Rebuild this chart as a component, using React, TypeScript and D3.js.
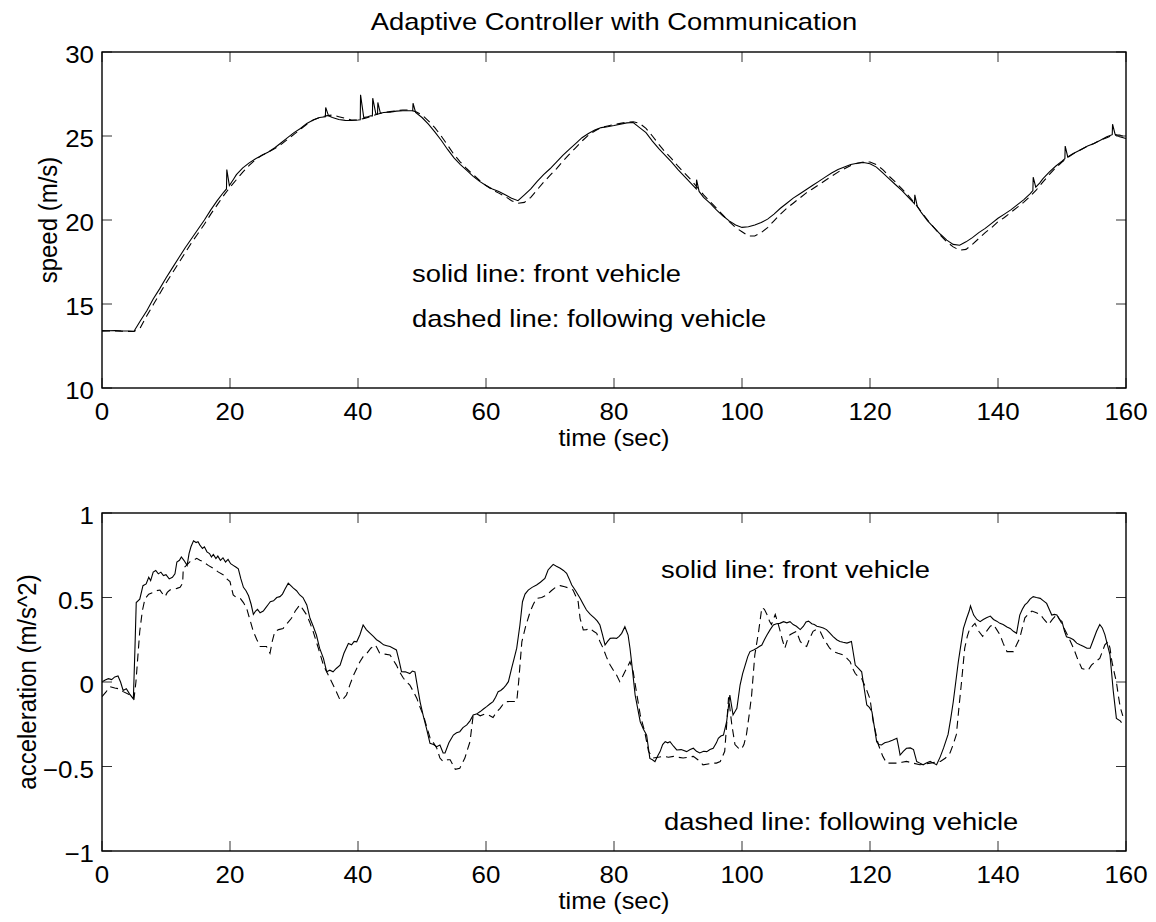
import React from "react";
import * as d3 from "d3";

const W = 1156;
const H = 922;

const titleText = "Adaptive Controller with Communication";
const xTicks = [0, 20, 40, 60, 80, 100, 120, 140, 160];
const speedTicks = [10, 15, 20, 25, 30];
const accelTicks = [-1, -0.5, 0, 0.5, 1];
const accelTickLabels = ["\u22121", "\u22120.5", "0", "0.5", "1"];

// speed (m/s) of front vehicle (solid)
const frontSpeed: [number, number][] = [
  [0, 13.42], [1, 13.41], [2, 13.42], [3, 13.4], [4, 13.39], [5, 13.38], [6, 14.0], [7, 14.6], [8, 15.3], [9, 15.9],
  [10, 16.55], [11, 17.15], [12, 17.75], [13, 18.35], [14, 18.9], [15, 19.45], [16, 20.0], [17, 20.6], [18, 21.15],
  [19, 21.65], [19.45, 21.85], [19.5, 23.0], [19.9, 22.05], [20.5, 22.4], [21, 22.7], [22, 23.1], [23, 23.4], [24, 23.65],
  [25, 23.85], [26, 24.05], [27, 24.3], [28, 24.6], [29, 24.9], [30, 25.2], [31, 25.45], [32, 25.75], [33, 25.95], [34, 26.1],
  [34.9, 26.15], [34.95, 26.7], [35.4, 26.2], [36, 26.1], [37, 25.98], [38, 25.93], [39, 25.92], [40, 25.95], [40.35, 25.97],
  [40.4, 27.45], [40.9, 26.1], [41.5, 26.15], [42, 26.2], [42.25, 26.2], [42.3, 27.25], [42.8, 26.3], [43.05, 26.3], [43.1, 27.0],
  [43.5, 26.35], [44, 26.4], [45, 26.42], [46, 26.48], [47, 26.5], [48, 26.5], [48.55, 26.5], [48.6, 26.95], [49.0, 26.4],
  [50, 26.1], [51, 25.7], [52, 25.25], [53, 24.75], [54, 24.2], [55, 23.7], [56, 23.3], [57, 22.95], [58, 22.6], [59, 22.3],
  [60, 22.05], [61, 21.85], [62, 21.7], [63, 21.5], [64, 21.3], [65, 21.15], [66, 21.5], [67, 21.85], [68, 22.3], [69, 22.7],
  [70, 23.05], [71, 23.45], [72, 23.85], [73, 24.2], [74, 24.55], [75, 24.9], [76, 25.15], [77, 25.35], [78, 25.5], [79, 25.55],
  [80, 25.62], [81, 25.7], [82, 25.78], [83, 25.8], [84, 25.5], [85, 25.2], [86, 24.7], [87, 24.25], [88, 23.85], [89, 23.45],
  [90, 23.0], [91, 22.6], [92, 22.2], [92.85, 21.85], [92.9, 22.4], [93.3, 21.7], [94, 21.35], [95, 21.0], [96, 20.6], [97, 20.25],
  [98, 19.95], [99, 19.7], [100, 19.56], [101, 19.6], [102, 19.7], [103, 19.85], [104, 20.05], [105, 20.35], [106, 20.7],
  [107, 21.0], [108, 21.3], [109, 21.55], [110, 21.8], [111, 22.05], [112, 22.3], [113, 22.55], [114, 22.8], [115, 23.0],
  [116, 23.15], [117, 23.3], [118, 23.38], [119, 23.42], [120, 23.35], [121, 23.15], [122, 22.8], [123, 22.45], [124, 22.1],
  [125, 21.75], [126, 21.35], [126.95, 20.97], [127.0, 21.5], [127.4, 20.8], [128, 20.45], [129, 19.95], [130, 19.55],
  [131, 19.15], [132, 18.8], [133, 18.55], [134, 18.5], [135, 18.7], [136, 18.95], [137, 19.25], [138, 19.5], [139, 19.8],
  [140, 20.1], [141, 20.35], [142, 20.6], [143, 20.9], [144, 21.2], [145, 21.55], [145.45, 21.75], [145.5, 22.55],
  [145.9, 21.95], [146.5, 22.2], [147, 22.45], [148, 22.85], [149, 23.2], [150, 23.5], [150.45, 23.65], [150.5, 24.4],
  [150.9, 23.75], [151.5, 23.9], [152, 24.0], [153, 24.2], [154, 24.4], [155, 24.55], [156, 24.75], [157, 24.95],
  [157.85, 25.08], [157.9, 25.7], [158.3, 25.1], [159, 24.95], [160, 24.85],
];

// speed (m/s) of following vehicle (dashed)
const followSpeed: [number, number][] = [
  [0, 13.38], [1, 13.4], [2, 13.39], [3, 13.38], [4, 13.37], [5, 13.36], [6, 13.6], [7, 14.3], [8, 14.95], [9, 15.6],
  [10, 16.25], [11, 16.85], [12, 17.45], [13, 18.05], [14, 18.65], [15, 19.2], [16, 19.75], [17, 20.35], [18, 20.9], [19, 21.45],
  [20, 21.95], [21, 22.4], [22, 22.85], [23, 23.25], [24, 23.6], [25, 23.85], [26, 24.05], [27, 24.25], [28, 24.5], [29, 24.8],
  [30, 25.1], [31, 25.4], [32, 25.7], [33, 25.95], [34, 26.1], [35, 26.2], [36, 26.25], [37, 26.15], [38, 26.05], [39, 25.95],
  [40, 25.95], [41, 26.05], [42, 26.15], [43, 26.3], [44, 26.4], [45, 26.45], [46, 26.5], [47, 26.55], [48, 26.55], [49, 26.45],
  [50, 26.25], [51, 25.9], [52, 25.5], [53, 25.0], [54, 24.45], [55, 23.9], [56, 23.45], [57, 23.05], [58, 22.7], [59, 22.35],
  [60, 22.05], [61, 21.8], [62, 21.6], [63, 21.4], [64, 21.15], [65, 21.0], [66, 21.05], [67, 21.35], [68, 21.8], [69, 22.25],
  [70, 22.65], [71, 23.05], [72, 23.5], [73, 23.9], [74, 24.3], [75, 24.7], [76, 25.05], [77, 25.3], [78, 25.5], [79, 25.6],
  [80, 25.68], [81, 25.75], [82, 25.82], [83, 25.85], [84, 25.75], [85, 25.45], [86, 25.0], [87, 24.5], [88, 24.05], [89, 23.65],
  [90, 23.2], [91, 22.8], [92, 22.4], [93, 21.95], [94, 21.5], [95, 21.1], [96, 20.7], [97, 20.3], [98, 19.9], [99, 19.55],
  [100, 19.3], [101, 19.05], [102, 19.05], [103, 19.25], [104, 19.55], [105, 19.95], [106, 20.35], [107, 20.7], [108, 21.0],
  [109, 21.3], [110, 21.6], [111, 21.85], [112, 22.1], [113, 22.35], [114, 22.6], [115, 22.85], [116, 23.05], [117, 23.25],
  [118, 23.38], [119, 23.45], [120, 23.45], [121, 23.3], [122, 23.0], [123, 22.6], [124, 22.25], [125, 21.85], [126, 21.45],
  [127, 21.0], [128, 20.5], [129, 20.0], [130, 19.55], [131, 19.1], [132, 18.7], [133, 18.4], [134, 18.2], [135, 18.25],
  [136, 18.55], [137, 18.9], [138, 19.25], [139, 19.55], [140, 19.9], [141, 20.15], [142, 20.45], [143, 20.75], [144, 21.05],
  [145, 21.4], [146, 21.8], [147, 22.25], [148, 22.7], [149, 23.1], [150, 23.45], [151, 23.75], [152, 24.0], [153, 24.2],
  [154, 24.4], [155, 24.55], [156, 24.75], [157, 24.9], [158, 25.05], [159, 25.05], [160, 24.95],
];

// acceleration (m/s^2) of front vehicle (solid)
const frontAccel: [number, number][] = [
  [0, 0.0], [0.5, 0.012], [1, 0.02], [1.5, 0.014], [2, 0.03], [2.5, 0.036], [2.9, 0.0], [3.3, -0.05], [3.8, -0.04], [4.3, -0.07],
  [4.9, -0.1], [5.15, 0.2], [5.35, 0.47], [5.9, 0.49], [6.4, 0.57], [6.9, 0.58], [7.3, 0.62], [7.6, 0.6], [8.0, 0.65], [8.4, 0.66],
  [8.8, 0.64], [9.2, 0.65], [9.6, 0.63], [10.0, 0.635], [10.5, 0.61], [11.0, 0.62], [11.4, 0.64], [11.7, 0.71], [12.1, 0.72],
  [12.4, 0.74], [12.8, 0.72], [13.3, 0.69], [13.6, 0.76], [13.9, 0.8], [14.3, 0.835], [14.7, 0.825], [15.0, 0.83], [15.3, 0.81],
  [15.7, 0.79], [16.0, 0.8], [16.4, 0.77], [16.8, 0.76], [17.1, 0.74], [17.4, 0.755], [17.8, 0.73], [18.1, 0.745], [18.5, 0.72],
  [18.9, 0.735], [19.3, 0.71], [19.7, 0.725], [20.1, 0.7], [20.5, 0.69], [20.9, 0.68], [21.3, 0.67], [21.7, 0.61], [22.1, 0.56],
  [22.5, 0.54], [22.9, 0.51], [23.3, 0.46], [23.65, 0.4], [24.0, 0.42], [24.3, 0.43], [24.7, 0.41], [25.2, 0.42], [25.6, 0.44],
  [26.0, 0.46], [26.3, 0.475], [26.8, 0.48], [27.3, 0.5], [27.8, 0.505], [28.2, 0.52], [28.6, 0.55], [29.1, 0.585], [29.5, 0.57],
  [29.9, 0.555], [30.4, 0.54], [30.9, 0.515], [31.4, 0.5], [32.0, 0.456], [32.5, 0.377], [33.0, 0.33], [33.5, 0.278], [34.0, 0.2],
  [34.6, 0.14], [35.1, 0.061], [35.6, 0.07], [36.1, 0.06], [36.6, 0.08], [37.2, 0.1], [37.8, 0.17], [38.5, 0.228], [39.0, 0.22],
  [39.4, 0.24], [39.8, 0.238], [40.3, 0.28], [40.8, 0.337], [41.3, 0.31], [41.9, 0.288], [42.4, 0.27], [42.9, 0.25], [43.4, 0.238],
  [44.0, 0.22], [44.5, 0.215], [45.0, 0.21], [45.5, 0.2], [46.0, 0.19], [46.4, 0.13], [46.8, 0.061], [47.4, 0.06], [48.1, 0.05],
  [48.5, 0.065], [48.9, 0.06], [49.3, -0.03], [49.7, -0.117], [50.2, -0.2], [50.7, -0.274], [51.25, -0.363], [51.8, -0.37],
  [52.3, -0.383], [52.8, -0.373], [53.3, -0.42], [53.6, -0.42], [54.2, -0.36], [54.9, -0.314], [55.4, -0.3], [55.9, -0.294],
  [56.4, -0.27], [57.0, -0.254], [57.5, -0.23], [58.0, -0.195], [58.5, -0.19], [59.1, -0.175], [59.6, -0.16], [60.1, -0.146],
  [60.6, -0.13], [61.1, -0.116], [61.5, -0.09], [61.9, -0.057], [62.3, -0.05], [62.7, -0.037], [63.1, -0.02], [63.5, 0.002],
  [64.0, 0.081], [64.4, 0.14], [64.8, 0.2], [65.3, 0.337], [65.7, 0.475], [66.1, 0.52], [66.6, 0.544], [67.2, 0.56], [67.9, 0.574],
  [68.5, 0.59], [69.2, 0.613], [69.7, 0.663], [70.1, 0.68], [70.5, 0.696], [71.0, 0.685], [71.6, 0.673], [72.1, 0.66],
  [72.6, 0.643], [73.0, 0.61], [73.4, 0.574], [74.0, 0.54], [74.7, 0.495], [75.2, 0.46], [75.7, 0.426], [76.3, 0.4], [77.0, 0.377],
  [77.4, 0.36], [77.8, 0.337], [78.2, 0.28], [78.6, 0.219], [79.0, 0.24], [79.4, 0.258], [79.9, 0.26], [80.4, 0.258], [80.8, 0.27],
  [81.2, 0.288], [81.7, 0.327], [82.2, 0.278], [82.5, 0.2], [82.8, 0.1], [83.3, -0.077], [84.1, -0.235], [84.6, -0.28],
  [85.1, -0.314], [85.6, -0.452], [86.0, -0.46], [86.4, -0.471], [86.8, -0.44], [87.2, -0.412], [87.6, -0.37], [88.0, -0.353],
  [88.4, -0.36], [88.75, -0.353], [89.3, -0.38], [89.8, -0.402], [90.5, -0.4], [91.35, -0.412], [91.9, -0.4], [92.4, -0.392],
  [92.9, -0.41], [93.4, -0.42], [94.0, -0.41], [94.5, -0.412], [95.0, -0.4], [95.5, -0.392], [96.0, -0.36], [96.3, -0.333],
  [96.7, -0.32], [97.1, -0.314], [97.6, -0.235], [98.1, -0.077], [98.6, -0.195], [99.2, -0.156], [99.7, -0.018], [100.1, 0.05],
  [100.5, 0.1], [100.9, 0.15], [101.25, 0.18], [101.8, 0.19], [102.3, 0.2], [102.7, 0.21], [103.1, 0.219], [103.5, 0.25],
  [103.9, 0.278], [104.4, 0.31], [104.9, 0.337], [105.4, 0.345], [105.9, 0.347], [106.5, 0.357], [107.0, 0.35], [107.5, 0.357],
  [108.0, 0.34], [108.5, 0.33], [109.1, 0.31], [109.6, 0.33], [110.0, 0.355], [110.4, 0.36], [110.9, 0.345], [111.3, 0.34],
  [111.7, 0.33], [112.2, 0.325], [112.7, 0.32], [113.2, 0.31], [113.7, 0.29], [114.2, 0.27], [114.8, 0.25], [115.3, 0.24],
  [115.8, 0.235], [116.4, 0.23], [117.1, 0.24], [117.4, 0.17], [117.7, 0.1], [118.2, 0.08], [118.7, 0.06], [119.1, -0.04],
  [119.5, -0.136], [119.9, -0.15], [120.3, -0.175], [120.7, -0.27], [121.04, -0.353], [121.4, -0.37], [121.8, -0.373],
  [122.3, -0.36], [122.9, -0.353], [123.5, -0.345], [124.2, -0.333], [124.5, -0.39], [124.7, -0.432], [125.2, -0.41],
  [125.7, -0.392], [126.3, -0.39], [126.8, -0.4], [127.3, -0.471], [127.8, -0.48], [128.3, -0.49], [128.8, -0.48], [129.4, -0.47],
  [129.9, -0.48], [130.4, -0.49], [131.0, -0.44], [131.5, -0.39], [132.2, -0.31], [132.6, -0.22], [133.0, -0.12], [133.4, 0.0],
  [133.8, 0.12], [134.2, 0.22], [134.6, 0.317], [135.1, 0.377], [135.5, 0.42], [135.7, 0.45], [136.2, 0.396], [136.7, 0.37],
  [137.2, 0.357], [137.7, 0.37], [138.2, 0.38], [138.8, 0.39], [139.3, 0.37], [139.8, 0.36], [140.3, 0.347], [140.8, 0.34],
  [141.4, 0.325], [141.9, 0.317], [142.4, 0.3], [142.9, 0.288], [143.4, 0.396], [143.8, 0.43], [144.2, 0.456], [144.6, 0.47],
  [145.0, 0.49], [145.5, 0.505], [146.0, 0.5], [146.6, 0.495], [147.1, 0.48], [147.6, 0.465], [148.0, 0.43], [148.4, 0.396],
  [148.8, 0.4], [149.2, 0.396], [149.6, 0.37], [150.0, 0.357], [150.4, 0.3], [150.7, 0.268], [151.3, 0.26], [151.8, 0.25],
  [152.3, 0.23], [152.8, 0.22], [153.4, 0.21], [153.9, 0.2], [154.4, 0.2], [154.9, 0.25], [155.4, 0.3], [155.9, 0.34],
  [156.3, 0.32], [156.7, 0.28], [157.1, 0.22], [157.5, 0.16], [158.0, -0.05], [158.5, -0.215], [159.1, -0.23], [159.3, -0.24],
];

// acceleration (m/s^2) of following vehicle (dashed)
const followAccel: [number, number][] = [
  [0, -0.087], [0.6, -0.06], [1.25, -0.028], [2.0, -0.035], [2.6, -0.04], [3.3, -0.057], [4.0, -0.07], [4.6, -0.08], [5.0, -0.1],
  [5.3, 0.0], [5.6, 0.15], [5.9, 0.3], [6.3, 0.42], [6.7, 0.49], [7.3, 0.52], [8.0, 0.53], [8.5, 0.54], [9.06, 0.544], [9.5, 0.52],
  [9.85, 0.505], [10.2, 0.53], [10.6, 0.544], [11.2, 0.55], [11.7, 0.554], [12.2, 0.56], [12.6, 0.584], [12.7, 0.673], [13.2, 0.69],
  [13.75, 0.712], [14.3, 0.72], [14.8, 0.732], [15.3, 0.72], [15.8, 0.712], [16.6, 0.69], [17.4, 0.673], [18.2, 0.65],
  [19.0, 0.633], [19.5, 0.61], [20.0, 0.594], [20.5, 0.515], [21.0, 0.5], [21.6, 0.495], [22.1, 0.47], [22.6, 0.436],
  [23.1, 0.37], [23.65, 0.298], [24.2, 0.25], [24.7, 0.21], [25.2, 0.21], [25.7, 0.21], [26.25, 0.17], [26.6, 0.24],
  [27.0, 0.298], [27.6, 0.31], [28.3, 0.317], [29.0, 0.35], [29.6, 0.377], [30.2, 0.42], [30.9, 0.456], [31.4, 0.43],
  [32.0, 0.396], [32.5, 0.35], [33.0, 0.298], [33.8, 0.2], [34.6, 0.1], [35.1, 0.06], [35.6, 0.022], [36.4, -0.04],
  [37.2, -0.107], [37.7, -0.1], [38.2, -0.077], [38.7, -0.02], [39.3, 0.04], [39.8, 0.08], [40.3, 0.12], [40.8, 0.15],
  [41.4, 0.17], [42.0, 0.2], [42.7, 0.219], [43.0, 0.2], [43.4, 0.17], [44.2, 0.165], [45.0, 0.16], [45.5, 0.13], [46.0, 0.1],
  [46.5, 0.06], [47.1, 0.022], [47.6, 0.0], [48.1, -0.018], [48.7, -0.06], [49.2, -0.097], [49.7, -0.15], [50.2, -0.195],
  [50.7, -0.26], [51.25, -0.33], [51.8, -0.36], [52.3, -0.39], [52.8, -0.45], [53.3, -0.47], [54.0, -0.46], [54.4, -0.46],
  [55.2, -0.517], [55.9, -0.51], [56.3, -0.48], [56.7, -0.45], [57.1, -0.4], [57.5, -0.353], [58.0, -0.195], [58.6, -0.19],
  [59.1, -0.2], [59.8, -0.19], [60.4, -0.195], [61.1, -0.21], [61.6, -0.18], [62.2, -0.156], [62.7, -0.13], [63.2, -0.116],
  [64.0, -0.115], [64.8, -0.116], [65.1, 0.0], [65.6, 0.238], [66.2, 0.33], [66.9, 0.416], [67.4, 0.46], [67.9, 0.495],
  [68.7, 0.5], [69.5, 0.515], [70.2, 0.54], [71.0, 0.564], [71.6, 0.57], [72.3, 0.564], [73.0, 0.555], [73.6, 0.544],
  [74.0, 0.51], [74.4, 0.475], [74.7, 0.377], [75.2, 0.308], [75.7, 0.31], [76.2, 0.318], [76.8, 0.3], [77.3, 0.288],
  [77.8, 0.24], [78.3, 0.2], [78.8, 0.15], [79.4, 0.1], [79.9, 0.07], [80.4, 0.041], [80.9, 0.002], [81.3, 0.03], [81.7, 0.06],
  [82.1, 0.09], [82.5, 0.12], [83.0, 0.06], [83.5, -0.057], [84.1, -0.195], [84.8, -0.294], [85.4, -0.412], [86.1, -0.45],
  [86.9, -0.445], [87.7, -0.44], [88.5, -0.445], [89.3, -0.44], [90.0, -0.445], [90.8, -0.45], [91.6, -0.445], [92.4, -0.44],
  [93.1, -0.46], [93.9, -0.49], [94.7, -0.485], [95.5, -0.48], [96.0, -0.48], [96.6, -0.471], [97.3, -0.41], [97.7, -0.2],
  [97.9, -0.09], [98.4, -0.25], [98.9, -0.37], [99.4, -0.39], [99.9, -0.4], [100.3, -0.37], [100.7, -0.31], [101.1, -0.2],
  [101.5, -0.08], [102.0, 0.16], [102.6, 0.3], [103.1, 0.44], [103.5, 0.43], [103.9, 0.4], [104.3, 0.36], [104.6, 0.34],
  [105.2, 0.4], [105.6, 0.35], [105.9, 0.31], [106.3, 0.25], [106.7, 0.2], [107.1, 0.25], [107.5, 0.28], [108.0, 0.29],
  [108.5, 0.3], [109.1, 0.24], [109.6, 0.22], [110.1, 0.21], [110.6, 0.26], [111.1, 0.3], [111.6, 0.31], [112.2, 0.3],
  [112.7, 0.26], [113.2, 0.23], [113.7, 0.2], [114.3, 0.18], [115.0, 0.17], [115.8, 0.16], [116.4, 0.14], [116.9, 0.12],
  [117.3, 0.08], [117.7, 0.05], [118.2, 0.03], [118.7, 0.02], [119.4, -0.04], [120.0, -0.1], [120.5, -0.235], [121.3, -0.37],
  [122.0, -0.44], [122.6, -0.48], [123.4, -0.48], [124.2, -0.48], [125.0, -0.475], [125.7, -0.47], [126.7, -0.48],
  [127.8, -0.49], [128.6, -0.485], [129.4, -0.48], [130.2, -0.475], [131.0, -0.47], [131.8, -0.45], [132.5, -0.42],
  [133.0, -0.37], [133.5, -0.31], [133.9, -0.15], [134.3, 0.0], [134.8, 0.2], [135.2, 0.27], [135.6, 0.317], [136.0, 0.33],
  [136.4, 0.347], [137.0, 0.3], [137.6, 0.27], [138.2, 0.3], [138.8, 0.33], [139.3, 0.34], [139.8, 0.31], [140.3, 0.28],
  [140.8, 0.23], [141.4, 0.18], [141.9, 0.18], [142.4, 0.18], [142.9, 0.22], [143.4, 0.26], [143.8, 0.32], [144.2, 0.38],
  [144.7, 0.4], [145.3, 0.42], [146.0, 0.41], [146.6, 0.4], [147.2, 0.37], [147.9, 0.34], [148.5, 0.37], [149.2, 0.4],
  [149.9, 0.35], [150.7, 0.29], [151.2, 0.25], [151.8, 0.2], [152.4, 0.14], [153.1, 0.08], [153.6, 0.075], [154.1, 0.07],
  [154.6, 0.1], [155.2, 0.12], [155.9, 0.14], [156.3, 0.18], [156.7, 0.22], [157.2, 0.24], [157.5, 0.2], [157.8, 0.12],
  [158.2, 0.05], [158.5, 0.0], [158.8, -0.08], [159.1, -0.15], [159.5, -0.2],
];

const FONT = "'Liberation Sans', Arial, Helvetica, sans-serif";

function T({ x, y, size, sx = 1.12, anchor = "start", children }: any) {
  return (
    <text
      transform={`translate(${x},${y}) scale(${sx},1)`}
      fontFamily={FONT}
      fontSize={size}
      textAnchor={anchor}
      fill="#000"
    >
      {children}
    </text>
  );
}

function Panel({ top, bottom, yDomain, yTicks, yTickLabels, yLabel, yLabelX, solid, dashed, legend }: any) {
  const left = 102;
  const right = 1126;
  const x = d3.scaleLinear().domain([0, 160]).range([left, right]);
  const y = d3.scaleLinear().domain(yDomain).range([bottom, top]);
  const line = d3
    .line<[number, number]>()
    .x((d) => x(d[0]))
    .y((d) => y(d[1]));
  const id = `clip${top}`;
  const tl = 10;
  return (
    <g>
      <defs>
        <clipPath id={id}>
          <rect x={left} y={top} width={right - left} height={bottom - top} />
        </clipPath>
      </defs>
      <g clipPath={`url(#${id})`}>
        <path d={line(dashed) || ""} fill="none" stroke="#000" strokeWidth={1.1} strokeDasharray="8,5" />
        <path d={line(solid) || ""} fill="none" stroke="#000" strokeWidth={1.1} />
      </g>
      {xTicks.map((t) => (
        <g key={"xt" + t}>
          <line x1={x(t)} x2={x(t)} y1={bottom} y2={bottom - tl} stroke="#333" strokeWidth={1} />
          <line x1={x(t)} x2={x(t)} y1={top} y2={top + tl} stroke="#333" strokeWidth={1} />
          <T x={x(t)} y={bottom + 32} size={24} sx={1.08} anchor="middle">{String(t)}</T>
        </g>
      ))}
      {yTicks.map((t: number, i: number) => (
        <g key={"yt" + t}>
          <line x1={left} x2={left + tl} y1={y(t)} y2={y(t)} stroke="#333" strokeWidth={1} />
          <line x1={right} x2={right - tl} y1={y(t)} y2={y(t)} stroke="#333" strokeWidth={1} />
          <T x={left - 8} y={y(t) + 11} size={24} sx={1.08} anchor="end">{yTickLabels[i]}</T>
        </g>
      ))}
      <rect x={left} y={top} width={right - left} height={bottom - top} fill="none" stroke="#000" strokeWidth={1.4} />
      <T x={(left + right) / 2} y={bottom + 58} size={23} sx={1.1} anchor="middle">time (sec)</T>
      <text
        transform={`translate(${yLabelX},${(top + bottom) / 2}) rotate(-90) scale(1,1.1)`}
        fontFamily={FONT}
        fontSize={24}
        textAnchor="middle"
        fill="#000"
      >
        {yLabel}
      </text>
      {legend.map((l: any) => (
        <T key={l.text} x={l.x} y={l.y} size={24} sx={1.14}>{l.text}</T>
      ))}
    </g>
  );
}

export default function App() {
  return (
    <svg width={W} height={H} style={{ position: "absolute", left: 0, top: 0, background: "#fff" }}>
      <rect x={0} y={0} width={W} height={H} fill="#fff" />
      <T x={614} y={30} size={24} sx={1.14} anchor="middle">{titleText}</T>
      <Panel
        top={52}
        bottom={388}
        yDomain={[10, 30]}
        yTicks={speedTicks}
        yTickLabels={speedTicks.map(String)}
        yLabel="speed (m/s)"
        yLabelX={57}
        solid={frontSpeed}
        dashed={followSpeed}
        legend={[
          { text: "solid line: front vehicle", x: 412, y: 282 },
          { text: "dashed line: following vehicle", x: 412, y: 327 },
        ]}
      />
      <Panel
        top={513}
        bottom={851}
        yDomain={[-1, 1]}
        yTicks={accelTicks}
        yTickLabels={accelTickLabels}
        yLabel="acceleration (m/s^2)"
        yLabelX={36}
        solid={frontAccel}
        dashed={followAccel}
        legend={[
          { text: "solid line: front vehicle", x: 661, y: 578 },
          { text: "dashed line: following vehicle", x: 664, y: 830 },
        ]}
      />
    </svg>
  );
}
